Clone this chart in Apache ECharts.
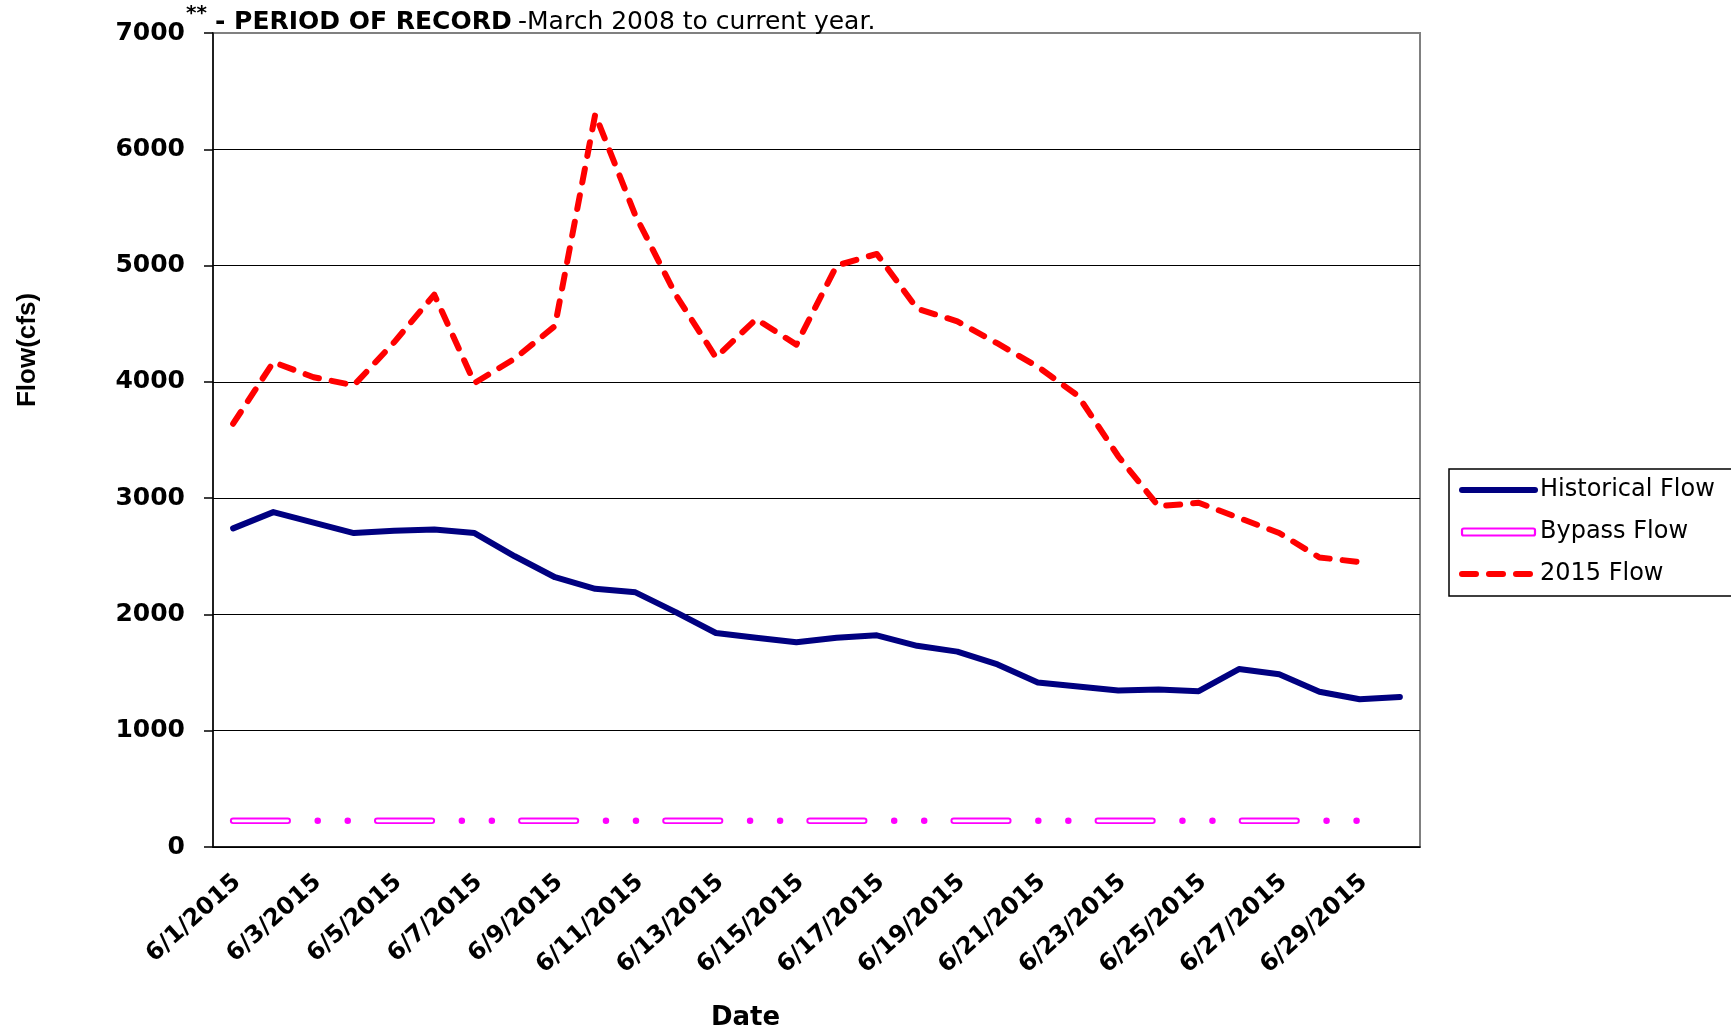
<!DOCTYPE html>
<html><head><meta charset="utf-8">
<script src="https://cdn.jsdelivr.net/npm/echarts@6/dist/echarts.min.js"></script>
<style>html,body{margin:0;padding:0;background:#fff}#c{width:1731px;height:1033px}</style>
</head><body><div id="c"></div>
<script>
const dates = ['6/1/2015','6/2/2015','6/3/2015','6/4/2015','6/5/2015','6/6/2015','6/7/2015','6/8/2015','6/9/2015','6/10/2015',
  '6/11/2015','6/12/2015','6/13/2015','6/14/2015','6/15/2015','6/16/2015','6/17/2015','6/18/2015','6/19/2015','6/20/2015',
  '6/21/2015','6/22/2015','6/23/2015','6/24/2015','6/25/2015','6/26/2015','6/27/2015','6/28/2015','6/29/2015','6/30/2015'];
const historicalFlow = [2740, 2880, 2790, 2700, 2720, 2730, 2700, 2500, 2320, 2220,
  2190, 2020, 1840, 1800, 1760, 1800, 1820, 1730, 1680, 1570,
  1415, 1380, 1345, 1355, 1340, 1530, 1485, 1335, 1270, 1290];
const bypassFlow = [225, 225, 225, 225, 225, 225, 225, 225, 225, 225,
  225, 225, 225, 225, 225, 225, 225, 225, 225, 225,
  225, 225, 225, 225, 225, 225, 225, 225, 225, null];
const flow2015 = [3640, 4170, 4040, 3970, 4340, 4750, 3990, 4200, 4480, 6300,
  5430, 4750, 4210, 4540, 4320, 5000, 5100, 4630, 4520, 4330,
  4130, 3880, 3360, 2930, 2960, 2830, 2700, 2490, 2450, null];
const yMin = 0, yMax = 7000, yStep = 1000;
const headerParts = ['**', '- PERIOD OF RECORD', '-March 2008 to current year.'];

const chart = echarts.init(document.getElementById('c'), null, {renderer: 'canvas'});
const gridColors = ['#000', '#000', '#000', '#000', '#000', '#000', '#000', '#808080'];
const histStyle = {color: '#000080', width: 6, cap: 'round', join: 'round'};
const bypassStyle = {color: '#ff00ff', width: 6.5, cap: 'round', type: [54.6, 30, 0.01, 30, 0.01, 29.5]};
const bypassInnerStyle = {color: '#ffffff', width: 2.6, cap: 'round', type: [54.6, 89.52]};
const f2015Style = {color: '#ff0000', width: 6, cap: 'round', join: 'round', type: [14, 13]};
chart.setOption({
  animation: false,
  backgroundColor: '#fff',
  title: [
    {text: headerParts[0], left: 186, top: 4, padding: 0,
      textStyle: {fontFamily: 'DejaVu Sans', fontWeight: 'bold', fontSize: 20, color: '#000'}},
    {text: headerParts[1], left: 215, top: 10, padding: 0,
      textStyle: {fontFamily: 'DejaVu Sans', fontWeight: 'bold', fontSize: 25, color: '#000'}},
    {text: headerParts[2], left: 518, top: 10, padding: 0,
      textStyle: {fontFamily: 'DejaVu Sans', fontWeight: 'normal', fontSize: 25, color: '#000'}}
  ],
  legend: {
    orient: 'vertical', left: 1449, top: 469,
    data: [
      {name: 'Historical Flow', lineStyle: {color: '#000080', width: 6, cap: 'round'}, itemStyle: {opacity: 0}},
      {name: 'Bypass Flow', icon: 'roundRect', itemStyle: {color: '#fff', borderColor: '#ff00ff', borderWidth: 2.2}},
      {name: '2015 Flow', lineStyle: {color: '#ff0000', width: 6, cap: 'round', type: [14, 13]}, itemStyle: {opacity: 0}}
    ],
    itemWidth: 73, itemHeight: 7, itemGap: 18,
    padding: [9, 40, 10, 10],
    borderColor: '#000', borderWidth: 1.5, backgroundColor: '#fff',
    selectedMode: false,
    textStyle: {fontFamily: 'DejaVu Sans', fontSize: 24, color: '#000'}
  },
  grid: {left: 213, right: 311, top: 33, bottom: 186, containLabel: false, outerBoundsMode: 'none',
    show: true, borderColor: '#808080', borderWidth: 2, backgroundColor: 'transparent'},
  xAxis: {
    type: 'category', data: dates, boundaryGap: true,
    axisLine: {lineStyle: {color: '#000', width: 1.5}},
    axisTick: {interval: 1, length: 9, lineStyle: {color: '#000', width: 1.5}},
    axisLabel: {interval: 1, rotate: 42, margin: 36, fontFamily: 'DejaVu Sans', fontWeight: 'bold', fontSize: 24, color: '#000', padding: [0, -6, 0, 0]},
    name: 'Date', nameLocation: 'middle', nameGap: 158,
    nameTextStyle: {fontFamily: 'DejaVu Sans', fontWeight: 'bold', fontSize: 26, color: '#000', padding: [0, 142, 0, 0]}
  },
  yAxis: {
    type: 'value', min: yMin, max: yMax, interval: yStep,
    axisLine: {show: true, lineStyle: {color: '#000', width: 1.5}},
    axisTick: {show: true, length: 9, lineStyle: {color: '#000', width: 1.5}},
    axisLabel: {margin: 28, fontFamily: 'DejaVu Sans', fontWeight: 'bold', fontSize: 25, color: '#000', formatter: v => String(v)},
    splitLine: {show: true, lineStyle: {color: gridColors, width: 1.2}},
    name: 'Flow(cfs)', nameLocation: 'middle', nameRotate: 90, nameGap: 172,
    nameTextStyle: {fontFamily: 'Liberation Sans', fontWeight: 'bold', fontSize: 26, color: '#000', padding: [0, 0, 0, 180]}
  },
  series: [
    {name: 'Historical Flow', type: 'line', data: historicalFlow, symbol: 'none', z: 4,
      lineStyle: histStyle, itemStyle: {color: '#000080'}},
    {name: 'Bypass Flow', type: 'line', data: bypassFlow, symbol: 'none', z: 3,
      lineStyle: bypassStyle, itemStyle: {color: '#ff00ff'}},
    {name: 'bypass-inner', type: 'line', data: bypassFlow, symbol: 'none', z: 3, silent: true,
      lineStyle: bypassInnerStyle, itemStyle: {color: '#ffffff'}},
    {name: '2015 Flow', type: 'line', data: flow2015, symbol: 'none', z: 5,
      lineStyle: f2015Style, itemStyle: {color: '#ff0000'}}
  ]
});
</script></body></html>
